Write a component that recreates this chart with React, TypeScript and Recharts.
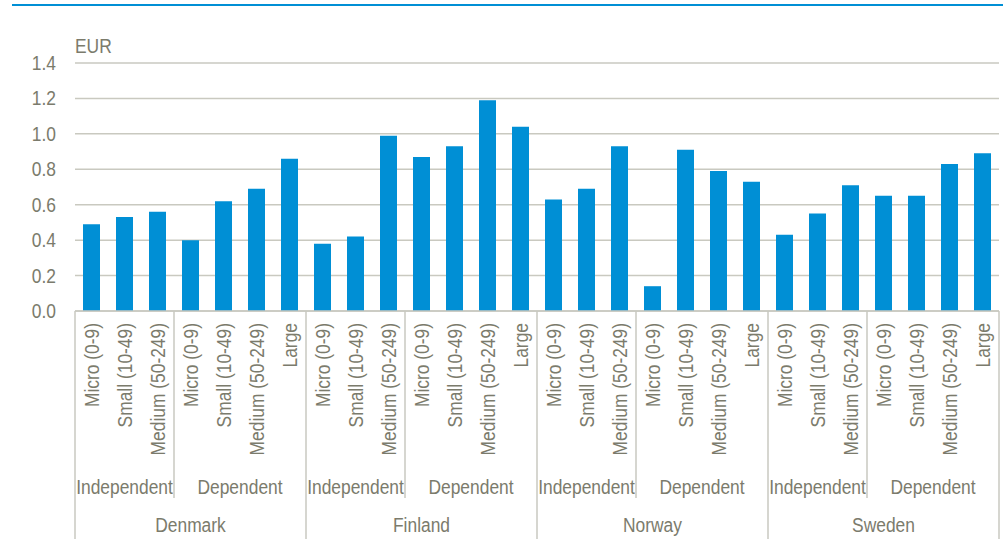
import React from 'react';
import { BarChart, Bar, XAxis, YAxis, CartesianGrid } from 'recharts';

const COUNTRIES = ['Denmark', 'Finland', 'Norway', 'Sweden'];
const OWNERSHIP = ['Independent', 'Dependent'];
const INDEPENDENT_SIZES = ['Micro (0-9)', 'Small (10-49)', 'Medium (50-249)'];
const DEPENDENT_SIZES = ['Micro (0-9)', 'Small (10-49)', 'Medium (50-249)', 'Large'];

// values per country: independent micro/small/medium, then dependent micro/small/medium/large
const DENMARK = [0.49, 0.53, 0.56, 0.40, 0.62, 0.69, 0.86];
const FINLAND = [0.38, 0.42, 0.99, 0.87, 0.93, 1.19, 1.04];
const NORWAY = [0.63, 0.69, 0.93, 0.14, 0.91, 0.79, 0.73];
const SWEDEN = [0.43, 0.55, 0.71, 0.65, 0.65, 0.83, 0.89];

const Y_TICKS = [0, 0.2, 0.4, 0.6, 0.8, 1.0, 1.2, 1.4];

const VALUES = [DENMARK, FINLAND, NORWAY, SWEDEN];

// no narrow font available, so regular sans is squeezed horizontally
const FONT = "'Liberation Sans', Arial, sans-serif";
const SQUEEZE = 0.87;
const TEXT_COLOR = '#7b7b6c';
const LINE_COLOR = '#c9c9c0';
const BAR_COLOR = '#008fd5';

interface Row {
    key: string;
    size: string;
    group: string;
    country: string;
    value: number;
    groupPos: number;
    groupCount: number;
    countryPos: number;
    countryCount: number;
}

const data: Row[] = [];
COUNTRIES.forEach((country, ci) => {
    let k = 0;
    const countryCount = INDEPENDENT_SIZES.length + DEPENDENT_SIZES.length;
    OWNERSHIP.forEach((group) => {
        const sizes = group === 'Independent' ? INDEPENDENT_SIZES : DEPENDENT_SIZES;
        sizes.forEach((size, si) => {
            data.push({
                key: `${country}|${group}|${size}`,
                size,
                group,
                country,
                value: VALUES[ci][k],
                groupPos: si,
                groupCount: sizes.length,
                countryPos: k,
                countryCount,
            });
            k++;
        });
    });
});

const NarrowText = ({ x, y, anchor, rotate = 0, children }: any) => (
    <g transform={`translate(${x},${y}) rotate(${rotate}) scale(${SQUEEZE},1)`}>
        <text x={0} y={0} dy="0.35em" textAnchor={anchor} fontSize={20} fill={TEXT_COLOR} fontFamily={FONT}>
            {children}
        </text>
    </g>
);

const CategoryTick = (props: any) => {
    const { x, y, payload, width, visibleTicksCount } = props;
    const idx = payload.index ?? props.index;
    const row = data[idx];
    if (!row) return null;
    const half = payload.offset || width / visibleTicksCount / 2;
    const left = x - half;
    const items: React.ReactNode[] = [];

    items.push(<NarrowText key="lbl" x={x} y={y + 12} anchor="end" rotate={-90}>{row.size}</NarrowText>);

    if (row.groupPos === 0) {
        const bottom = row.countryPos === 0 ? y + 228 : y + 187;
        items.push(<line key="sep" x1={left} x2={left} y1={y} y2={bottom} stroke={LINE_COLOR} strokeWidth={1.5} />);
        items.push(
            <NarrowText key="grp" x={left + row.groupCount * half} y={y + 176} anchor="middle">{row.group}</NarrowText>
        );
    }
    if (row.countryPos === 0) {
        items.push(
            <NarrowText key="cty" x={left + row.countryCount * half} y={y + 214} anchor="middle">{row.country}</NarrowText>
        );
    }
    if (idx === data.length - 1) {
        items.push(<line key="end" x1={x + half} x2={x + half} y1={y} y2={y + 228} stroke={LINE_COLOR} strokeWidth={1.5} />);
    }
    return <g>{items}</g>;
};

const ValueTick = (props: any) => {
    const { x, y, payload } = props;
    return <NarrowText x={x} y={y} anchor="end">{Number(payload.value).toFixed(1)}</NarrowText>;
};

export default function App() {
    return (
        <div style={{ position: 'absolute', top: 0, left: 0, width: 1003, height: 539, background: '#fff' }}>
            <div style={{ position: 'absolute', top: 4, left: 12, width: 991, height: 2, background: BAR_COLOR }} />
            <div style={{
                position: 'absolute', top: 36, left: 75, fontSize: 20, lineHeight: '20px',
                fontFamily: FONT, color: TEXT_COLOR, transform: `scaleX(${SQUEEZE})`, transformOrigin: 'left top',
            }}>EUR</div>
            <BarChart width={1003} height={539} data={data}
                margin={{ top: 63, right: 4, left: 0, bottom: 0 }} barSize={17}>
                <CartesianGrid vertical={false} stroke={LINE_COLOR} strokeWidth={1.5} />
                <XAxis dataKey="key" interval={0} height={228} tickLine={false} tickSize={0} tickMargin={0}
                    axisLine={{ stroke: LINE_COLOR, strokeWidth: 1.5 }} tick={<CategoryTick />} />
                <YAxis width={75} domain={[0, 1.4]} ticks={Y_TICKS} axisLine={false} tickLine={false}
                    tickSize={0} tickMargin={19} tick={<ValueTick />} />
                <Bar dataKey="value" fill={BAR_COLOR} isAnimationActive={false} />
            </BarChart>
        </div>
    );
}
